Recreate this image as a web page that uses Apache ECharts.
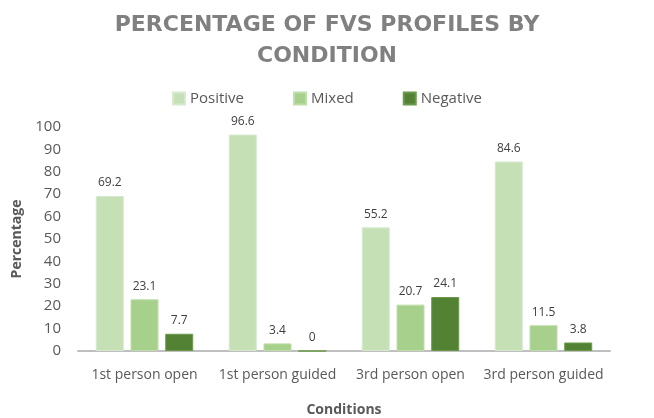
<!DOCTYPE html>
<html>
<head>
<meta charset="utf-8">
<script src="https://cdn.jsdelivr.net/npm/echarts@6/dist/echarts.min.js"></script>
<style>
  html, body { margin: 0; padding: 0; background: #fff; }
  #chart { width: 654px; height: 418px; }
</style>
</head>
<body>
<div id="chart"></div>
<script>
// chart data
var conditions = ['1st person open', '1st person guided', '3rd person open', '3rd person guided'];
var positive = [69.2, 96.6, 55.2, 84.6];
var mixed = [23.1, 3.4, 20.7, 11.5];
var negative = [7.7, 0, 24.1, 3.8];
var yTicks = [0, 10, 20, 30, 40, 50, 60, 70, 80, 90, 100];

var font = '"Open Sans", "Noto Sans", sans-serif';
var greys = { text: '#595959', label: '#404040' };

function makeSeries (name, data, fill, edge) {
  return {
    name: name,
    type: 'bar',
    data: data,
    barWidth: 28,
    barGap: '24%',
    itemStyle: { color: fill, borderColor: edge, borderWidth: 1 },
    label: {
      show: true,
      position: 'top',
      distance: 7,
      fontFamily: font,
      fontSize: 12,
      color: greys.label
    }
  }
}

var myChart = echarts.init(document.getElementById('chart'));
myChart.setOption({
  animation: false,
  title: {
    text: 'PERCENTAGE OF FVS PROFILES BY\nCONDITION',
    left: 'center',
    top: 5,
    textStyle: {
      fontFamily: '"DejaVu Sans", sans-serif',
      fontSize: 22,
      fontWeight: 'bold',
      color: '#808080',
      lineHeight: 31
    }
  },
  legend: {
    top: 86,
    left: 'center',
    itemWidth: 12,
    itemHeight: 12,
    itemGap: 49,
    icon: 'rect',
    textStyle: { fontFamily: font, fontSize: 15, color: greys.text }
  },
  grid: { left: 78, right: 44, top: 127, bottom: 67, outerBoundsMode: 'none' },
  xAxis: {
    type: 'category',
    data: conditions,
    name: 'Conditions',
    nameLocation: 'middle',
    nameGap: 52,
    nameTextStyle: { fontFamily: font, fontSize: 14, fontWeight: 'bold', color: greys.text },
    axisLine: { lineStyle: { color: '#bfbfbf', width: 2 } },
    axisTick: { show: false },
    axisLabel: { fontFamily: font, fontSize: 14, color: greys.text, margin: 17, interval: 0 }
  },
  yAxis: {
    type: 'value',
    min: yTicks[0],
    max: yTicks[yTicks.length - 1],
    interval: 10,
    name: 'Percentage',
    nameLocation: 'middle',
    nameGap: 46,
    nameTextStyle: { fontFamily: font, fontSize: 14, fontWeight: 'bold', color: greys.text },
    axisLine: { show: false },
    axisTick: { show: false },
    splitLine: { show: false },
    axisLabel: { fontFamily: font, fontSize: 15, color: greys.text, margin: 17 }
  },
  series: [
    makeSeries('Positive', positive, '#c5e0b4', '#d6ead0'),
    makeSeries('Mixed', mixed, '#a6d08c', '#c0deaa'),
    makeSeries('Negative', negative, '#548235', '#6a9a4a')
  ]
});
</script>
</body>
</html>
